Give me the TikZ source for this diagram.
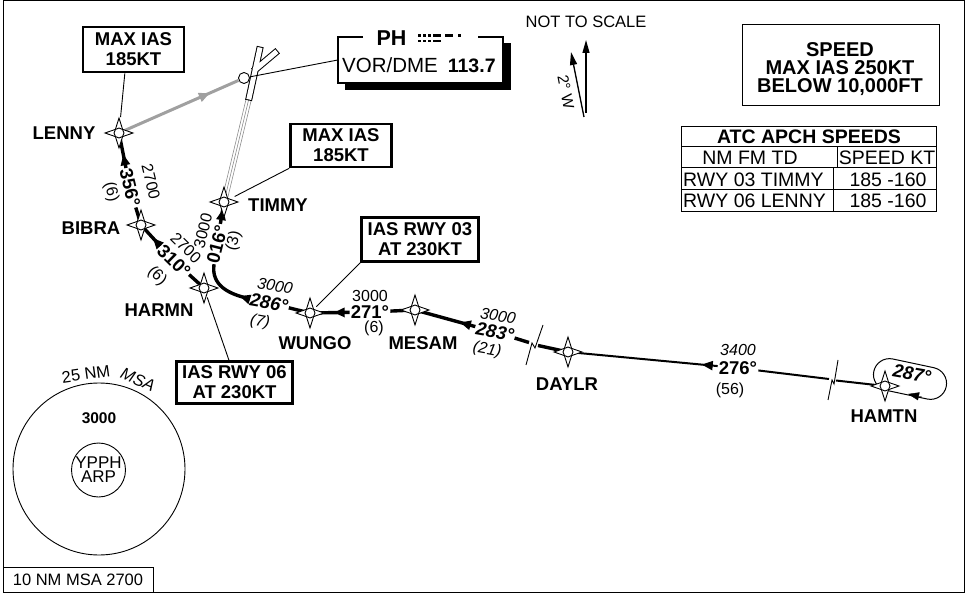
\documentclass[tikz,border=0pt]{standalone}
\usepackage{fontspec}
\setmainfont{Liberation Sans}
\usetikzlibrary{arrows.meta,decorations.markings}
\newcommand\fsz[2]{\fontsize{#1}{#2}\selectfont}
\definecolor{trkgray}{RGB}{160,160,160}
\definecolor{rdlgray}{RGB}{140,140,140}

\begin{document}
\begin{tikzpicture}[x=1pt, y=-1pt,
  leg/.style={line width=3.4pt},
  legthin/.style={line width=2pt},
  arr/.style={postaction={decorate}, decoration={markings,
     mark=at position #1 with {\arrow{Triangle[length=11pt,width=9pt]}}}},
  fixname/.style={font=\fsz{18.5}{18.5}\bfseries, inner sep=0pt},
  brg/.style={font=\fsz{18.5}{18.5}\bfseries, inner sep=1pt},
  brgit/.style={font=\fsz{18.5}{18.5}\bfseries\itshape, inner sep=1pt},
  altlbl/.style={font=\fsz{16}{16}, inner sep=0pt},
  altit/.style={font=\fsz{16}{16}\itshape, inner sep=0pt},
  iasbox/.style={draw, line width=2.6pt, font=\fsz{18.5}{20}\bfseries, align=center, inner sep=0pt},
  leader/.style={line width=0.9pt},
  wpt/.pic={
    \draw [fill=white, line width=0.9pt] (0,-15)--(3.6,-3.6)--(14,0)--(3.6,3.6)--(0,15)--(-3.6,3.6)--(-14,0)--(-3.6,-3.6)--cycle;
    \draw [fill=white, line width=0.9pt] (0,0) circle (5);
  }
]
\useasboundingbox (0,0) rectangle (973,593);

% ramka
\draw [line width=1pt] (3,1) rectangle (964,592);

% tochki
\coordinate (lenny) at (119,133);
\coordinate (bibra) at (141,225);
\coordinate (timmy) at (224,202);
\coordinate (harmn) at (204,288);
\coordinate (wungo) at (310,313);
\coordinate (mesam) at (415,310);
\coordinate (daylr) at (568,352);
\coordinate (hamtn) at (885,386);
\coordinate (rwyend) at (249.3,97);

% VOR and runways
\draw [rdlgray, line width=0.6pt] ([xshift=-2.7pt]rwyend) -- ([xshift=-2.7pt]timmy);
\draw [rdlgray, line width=0.6pt] (rwyend) -- (timmy);
\draw [rdlgray, line width=0.6pt] ([xshift=2.7pt]rwyend) -- ([xshift=2.7pt]timmy);
\draw [line width=7pt, line cap=rect] (rwyend) -- (259.5,50) (256,69) -- (275,53);
\draw [white, line width=5pt, line cap=rect] (rwyend) -- (259.5,50) (256,69) -- (275,53);
\node [draw, circle, fill=white, minimum size=11pt, inner sep=0pt, line width=0.9pt] (vor) at (244,78) {};
\draw [trkgray, line width=3pt, arr=0.76] (lenny) -- (vor);

% PH box
\node [minimum width=165pt, minimum height=46pt, inner sep=0pt] (vorbox) at (420.5,60) {};
\draw [leader] (vor) -- (vorbox.west);
\fill (345,43) rectangle (511,90);
\fill [white] (338,37) rectangle (503,83);
\draw [line width=1.2pt] (363,37) -- (338,37) -- (338,83) -- (503,83) -- (503,37) -- (478,37);
\node [font=\fsz{21.5}{21.5}\bfseries, inner sep=0pt] (vorid) at (391.5,38.5) {PH};
\fill (418,34.5) rectangle (420.5,37);
\fill (423,34.5) rectangle (425.5,37);
\fill (428,34.5) rectangle (430.5,37);
\fill (433,34.5) rectangle (441,37);
\fill (445,34.5) rectangle (453,37);
\fill (458,34.5) rectangle (460.5,37);
\fill (418,40) rectangle (420.5,42.5);
\fill (423,40) rectangle (425.5,42.5);
\fill (428,40) rectangle (430.5,42.5);
\fill (433,40) rectangle (441,42.5);
\node [font=\fsz{20.5}{20.5}, anchor=west, inner sep=0pt] (vorfreq) at (342,65) {VOR/DME\hspace{10pt}{\bfseries\fsz{19.5}{19.5}113.7}};

% track labels
\node [brg, rotate=-76.5] (brg356) at (130,188) {356°};
\node [altlbl, rotate=-76.5] (alt356) at (151,182) {2700};
\node [altlbl, rotate=-76.5] (dst356) at (111,192) {(6)};
\node [brg, rotate=-44.5] (brg310) at (174,261) {310°};
\node [altlbl, rotate=-44.5] (alt310) at (186,248) {2700};
\node [altlbl, rotate=-44.5] (dst310) at (157,276) {(6)};
\node [brg, rotate=76] (brg016) at (217,244) {016°};
\node [altlbl, rotate=76] (alt016) at (203,231) {3000};
\node [altlbl, rotate=76] (dst016) at (234,241) {(3)};
\node [brgit, rotate=-10] (brg286) at (269,303) {286°};
\node [altit, rotate=-10] (alt286) at (275,286) {3000};
\node [altit, rotate=-10] (dst286) at (260,322) {(7)};
\node [brg] (brg271) at (370,312) {271°};
\node [altlbl] (alt271) at (370,296) {3000};
\node [altlbl] (dst271) at (374,328) {(6)};
\node [brgit, rotate=-10] (brg283) at (495,332) {283°};
\node [altit, rotate=-10] (alt283) at (498,316) {3000};
\node [altit, rotate=-10] (dst283) at (487,350) {(21)};
\node [brg] (brg276) at (738,368) {276°};
\node [altit] (alt276) at (738,350) {3400};
\node [altlbl] (dst276) at (730,390) {(56)};

% break marks
\coordinate (brk1a) at (529,342.5);
\coordinate (brk1b) at (538,345.5);
\coordinate (brk2a) at (829,379);
\coordinate (brk2b) at (836,380.5);
\draw [line width=0.9pt] (526,365) -- (532,343) -- (535,348) -- (543,325);
\draw [line width=0.9pt] (828,400) -- (832,380) -- (834,384) -- (838,360);

% legs
\draw [leg] (bibra) -- (brg356);
\draw [leg, arr=14pt] (brg356) -- (lenny);
\draw [leg] (harmn) -- (brg310);
\draw [leg, arr=11pt] (brg310) -- (bibra);
\draw [leg, arr=15pt] (brg016) -- (timmy);
\draw [leg, arr=10pt] (brg286) .. controls (228,294) and (211,285) .. (brg016);
\draw [leg] (wungo) -- (brg286);
\draw [leg, arr=16pt] (brg271) -- (wungo);
\draw [leg] (mesam) -- (brg271);
\draw [leg, arr=16pt] (brg283) -- (mesam);
\draw [leg] (brk1a) -- (brg283);
\draw [leg] (daylr) -- (brk1b);
\draw [legthin, arr=16pt] (brg276) -- (daylr);
\draw [legthin] (brk2a) -- (brg276);
\draw [legthin] (hamtn) -- (brk2b);

% holding HAMTN
\draw [line width=1pt, rotate around={-12:(910,379)}, rounded corners=16pt] (873,363) rectangle (947,395);
\draw [-{Triangle[length=11pt,width=8pt]}] (922,397) -- (908,394);
\node [brgit, rotate=-10] (brg287) at (912,374) {287°};

% speed boxes
\node [iasbox, minimum width=101pt, minimum height=45pt] (iaslenny) at (133.5,49.5) {MAX IAS\\185KT};
\node [iasbox, minimum width=101pt, minimum height=43pt] (iastimmy) at (341,145.5) {MAX IAS\\185KT};
\node [iasbox, minimum width=117pt, minimum height=44pt] (iaswungo) at (420,239.5) {IAS RWY 03\\AT 230KT};
\node [iasbox, minimum width=116pt, minimum height=42pt] (iasharmn) at (234.5,382.5) {IAS RWY 06\\AT 230KT};
\draw [leader, shorten >=16pt] (iaslenny.250) -- (lenny);
\draw [leader, shorten >=12pt] (iastimmy.south west) -- (timmy);
\draw [leader, shorten >=9pt] (iaswungo.south west) -- (wungo);
\draw [leader, shorten >=10pt] (iasharmn.104) -- (harmn);

% waypoints
\pic at (lenny) {wpt};
\pic at (bibra) {wpt};
\pic at (timmy) {wpt};
\pic at (harmn) {wpt};
\pic at (wungo) {wpt};
\pic at (mesam) {wpt};
\pic at (daylr) {wpt};
\pic at (hamtn) {wpt};

\node [fixname] (lennylbl) at (64,133) {LENNY};
\node [fixname] (bibralbl) at (91,228) {BIBRA};
\node [fixname] (timmylbl) at (278,205) {TIMMY};
\node [fixname] (harmnlbl) at (159,310) {HARMN};
\node [fixname] (wungolbl) at (315,343) {WUNGO};
\node [fixname] (mesamlbl) at (423,343) {MESAM};
\node [fixname] (daylrlbl) at (567,384) {DAYLR};
\node [fixname] (hamtnlbl) at (884,416) {HAMTN};

% north
\node [font=\fsz{16.5}{16.5}, inner sep=0pt] (noscale) at (586,22) {NOT TO SCALE};
\draw [line width=1.3pt, -{Triangle[length=13pt,width=7pt]}] (586,113) -- (586,40);
\draw [line width=1.3pt, -{Triangle[length=13pt,width=7pt]}] (584,117) -- (571,52);
\node [font=\fsz{15.5}{15.5}, rotate=-79, inner sep=0pt] (magvar) at (566,92) {2° W};

% speed
\node [draw, line width=1.2pt, minimum width=197pt, minimum height=81pt] (spdbox) at (841,65) {};
\node [font=\fsz{20}{18}\bfseries, align=center, inner sep=0pt] (spdtxt) at (840,69) {SPEED\\MAX IAS 250KT\\BELOW 10,000FT};

% tablica
\draw [line width=1pt] (681.5,127) rectangle (936.5,212);
\draw [line width=1pt] (681.5,147) -- (936.5,147);
\draw [line width=1pt] (681.5,168) -- (936.5,168);
\draw [line width=1pt] (681.5,190) -- (936.5,190);
\draw [line width=1pt] (837,147) -- (837,168);
\draw [line width=1pt] (833,168) -- (833,212);
\node [font=\fsz{19.5}{19.5}\bfseries, inner sep=0pt] (tbltitle) at (809,137) {ATC APCH SPEEDS};
\node [font=\fsz{19.5}{19.5}, inner sep=0pt] (tblhda) at (750,158) {NM FM TD};
\node [font=\fsz{19.5}{19.5}, inner sep=0pt] (tblhdb) at (887,158) {SPEED KT};
\node [font=\fsz{19.5}{19.5}, inner sep=0pt, anchor=west] (tblra) at (683,179.5) {RWY 03 TIMMY};
\node [font=\fsz{19.5}{19.5}, inner sep=0pt] (tblras) at (888,179.5) {185 -160};
\node [font=\fsz{19.5}{19.5}, inner sep=0pt, anchor=west] (tblrb) at (683,201) {RWY 06 LENNY};
\node [font=\fsz{19.5}{19.5}, inner sep=0pt] (tblrbs) at (888,201) {185 -160};

% MSA
\node [draw, circle, minimum size=54pt, inner sep=0pt, line width=0.9pt, font=\fsz{17}{14}, align=center] (arp) at (98.5,470) {YPPH\\ARP};
\draw [line width=0.9pt] (99,469) circle (86);
\node [font=\fsz{15.5}{15.5}\bfseries, inner sep=0pt] (msaalt) at (99,418) {3000};
\node [font=\fsz{16.5}{16.5}, rotate=8, inner sep=0pt] (msarad) at (86,374) {25 NM};
\node [font=\fsz{16.5}{16.5}\itshape, rotate=-24, inner sep=0pt] (msatxt) at (138,380) {MSA};
\node [draw, line width=1pt, minimum width=150pt, minimum height=25pt, inner sep=0pt, font=\fsz{16.5}{16.5}] (msaten) at (78,579.5) {10 NM MSA 2700};

\end{tikzpicture}
\end{document}
